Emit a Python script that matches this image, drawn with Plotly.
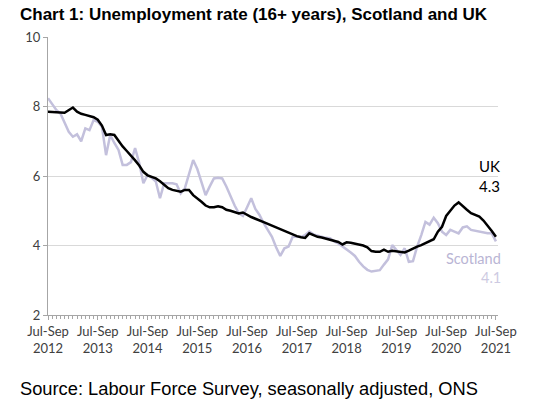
import plotly.graph_objects as go

# Month index 0 = Jul-Sep 2012 ... 108 = Jul-Sep 2021 (rolling quarters)
tick_labels = ["Jul-Sep<br>2012", "Jul-Sep<br>2013", "Jul-Sep<br>2014", "Jul-Sep<br>2015",
               "Jul-Sep<br>2016", "Jul-Sep<br>2017", "Jul-Sep<br>2018", "Jul-Sep<br>2019",
               "Jul-Sep<br>2020", "Jul-Sep<br>2021"]

uk = [7.85, 7.85, 7.85, 7.83, 7.82, 7.90, 7.97, 7.85, 7.79, 7.76,
      7.73, 7.69, 7.62, 7.45, 7.18, 7.20, 7.18, 7.00, 6.85, 6.72,
      6.60, 6.45, 6.30, 6.12, 6.02, 5.98, 5.93, 5.85, 5.76, 5.65,
      5.60, 5.57, 5.55, 5.60, 5.60, 5.45, 5.36, 5.26, 5.15, 5.10,
      5.10, 5.13, 5.10, 5.03, 5.00, 4.96, 4.92, 4.95, 4.88, 4.82,
      4.77, 4.73, 4.67, 4.62, 4.57, 4.52, 4.47, 4.42, 4.37, 4.31,
      4.27, 4.24, 4.22, 4.35, 4.30, 4.25, 4.23, 4.20, 4.18, 4.14,
      4.10, 4.03, 4.09, 4.08, 4.06, 4.04, 4.00, 3.95, 3.84, 3.82,
      3.82, 3.88, 3.82, 3.85, 3.84, 3.82, 3.80, 3.85, 3.92, 3.97,
      4.01, 4.06, 4.11, 4.18, 4.40, 4.54, 4.85, 5.00, 5.15, 5.24,
      5.12, 5.03, 4.93, 4.88, 4.83, 4.72, 4.58, 4.42, 4.25]

scotland = [8.24, 8.05, 7.90, 7.80, 7.55, 7.27, 7.13, 7.20, 7.00, 7.37,
            7.32, 7.61, 7.56, 7.42, 6.60, 7.18, 6.95, 6.75, 6.32, 6.32,
            6.40, 6.80, 6.37, 5.79, 6.03, 5.95, 5.84, 5.36, 5.79, 5.79,
            5.79, 5.76, 5.50, 5.65, 6.05, 6.46, 6.20, 5.85, 5.45, 5.70,
            5.93, 5.95, 5.93, 5.70, 5.41, 5.15, 4.93, 4.85, 5.10, 5.36,
            5.05, 4.88, 4.64, 4.45, 4.25, 3.95, 3.70, 3.92, 3.97, 4.25,
            4.25, 4.25, 4.30, 4.40, 4.32, 4.28, 4.24, 4.22, 4.21, 4.12,
            4.06, 3.98, 3.90, 3.80, 3.70, 3.53, 3.40, 3.30, 3.25, 3.27,
            3.29, 3.45, 3.60, 4.01, 3.87, 3.73, 3.92, 3.53, 3.55, 3.97,
            4.30, 4.68, 4.60, 4.80, 4.64, 4.40, 4.30, 4.45, 4.40, 4.35,
            4.52, 4.55, 4.45, 4.42, 4.40, 4.38, 4.35, 4.35, 4.12]

uk_last_label = "4.3"
scot_last_label = "4.1"

months = list(range(len(uk)))
tick_positions = list(range(0, len(uk), 12))

UK_COLOR = "#000000"
SCOT_COLOR = "#c3c0dc"
FONT = "Lato, Carlito, 'Open Sans', sans-serif"
ARIAL = "Liberation Sans, Arial, sans-serif"

fig = go.Figure()
fig.add_trace(go.Scatter(x=months, y=scotland, mode="lines", name="Scotland",
                         line=dict(color=SCOT_COLOR, width=2.5)))
fig.add_trace(go.Scatter(x=months, y=uk, mode="lines", name="UK",
                         line=dict(color=UK_COLOR, width=2.5)))

fig.update_layout(
    width=550, height=407,
    margin=dict(l=48, r=52, t=37, b=92),
    paper_bgcolor="white", plot_bgcolor="white",
    showlegend=False,
    xaxis=dict(range=[0, 108.5], tickmode="array", tickvals=tick_positions, ticktext=tick_labels,
               showgrid=False, zeroline=False, showline=True, linecolor="#a6a6a6", linewidth=1,
               ticks="outside", ticklen=4, tickcolor="#a6a6a6",
               minor=dict(dtick=1, tick0=0, ticks="outside", ticklen=3, tickcolor="#a6a6a6"),
               tickfont=dict(family=FONT, size=13, color="#404040")),
    yaxis=dict(range=[2, 10], tickvals=[2, 4, 6, 8, 10], showgrid=True, gridcolor="#d9d9d9",
               gridwidth=1, zeroline=False, showline=True, linecolor="#a6a6a6", linewidth=1,
               ticks="outside", ticklen=4, tickcolor="#a6a6a6",
               tickfont=dict(family=FONT, size=13, color="#404040")),
    annotations=[
        dict(x=(18 - 48) / 450, y=(315 - 14) / 278, xref="paper", yref="paper",
             text="<b>Chart 1: Unemployment rate (16+ years), Scotland and UK</b>",
             showarrow=False, xanchor="left", yanchor="middle",
             font=dict(family=ARIAL, size=17, color="#000000")),
        dict(x=(502 - 48) / 450, y=(315 - 166) / 278, xref="paper", yref="paper", text="UK",
             showarrow=False, xanchor="right", yanchor="middle",
             font=dict(family=FONT, size=15, color="#000000")),
        dict(x=(502 - 48) / 450, y=(315 - 186) / 278, xref="paper", yref="paper", text=uk_last_label,
             showarrow=False, xanchor="right", yanchor="middle",
             font=dict(family=FONT, size=15, color="#000000")),
        dict(x=(503 - 48) / 450, y=(315 - 258) / 278, xref="paper", yref="paper", text="Scotland",
             showarrow=False, xanchor="right", yanchor="middle",
             font=dict(family=FONT, size=14.5, color="#b9b5d4")),
        dict(x=(503 - 48) / 450, y=(315 - 277) / 278, xref="paper", yref="paper", text=scot_last_label,
             showarrow=False, xanchor="right", yanchor="middle",
             font=dict(family=FONT, size=14.5, color="#cdcae2")),
        dict(x=(18 - 48) / 450, y=(315 - 388) / 278, xref="paper", yref="paper",
             text="Source: Labour Force Survey, seasonally adjusted, ONS", showarrow=False,
             xanchor="left", yanchor="middle",
             font=dict(family=ARIAL, size=18.3, color="#000000")),
    ],
)

fig.write_html("out.html", config={"displayModeBar": False},
               post_script="document.body.style.margin='0';")
